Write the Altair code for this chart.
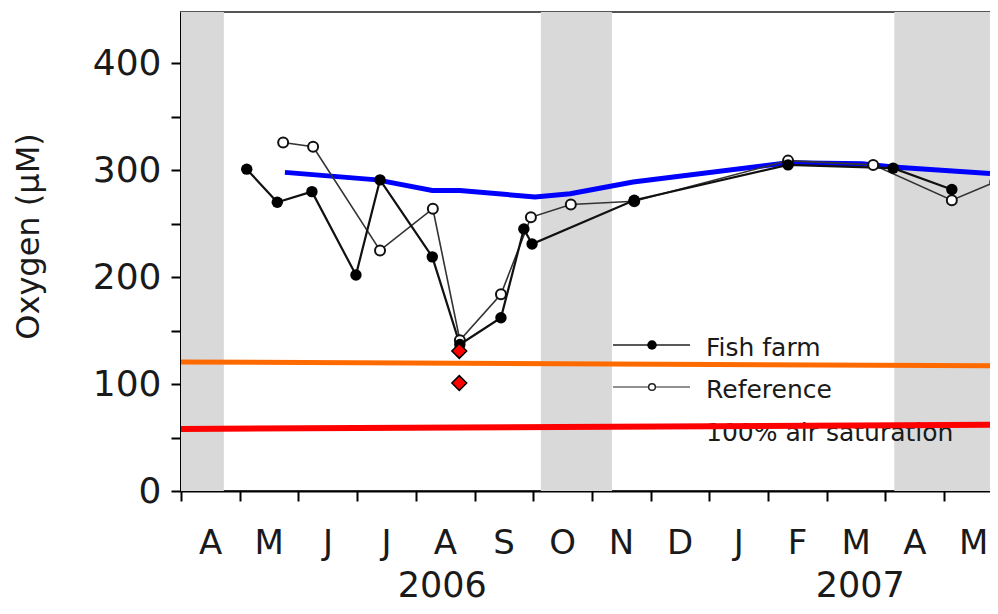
import altair as alt
import pandas as pd

# ---- data (months since 1 April 2006, oxygen in µM) ----
month_labels = ['A', 'M', 'J', 'J', 'A', 'S', 'O', 'N', 'D', 'J', 'F', 'M', 'A', 'M']
year_labels = ['2006', '2007']
year_centers = [4.45, 11.57]

fish_t = [1.12, 1.64, 2.23, 2.98, 3.39, 4.28, 4.75, 5.45, 5.84, 5.98, 7.72, 10.34, 12.13, 13.13]
fish_o2 = [301, 270, 280, 202, 291, 219, 137, 162, 245, 231, 272, 305, 302, 282]

ref_t = [1.74, 2.25, 3.39, 4.29, 4.75, 5.45, 5.96, 6.64, 7.72, 10.34, 11.79, 13.13, 13.87]
ref_o2 = [326, 322, 225, 264, 141, 184, 256, 268, 271, 309, 305, 272, 289]

sat_t = [1.77, 3.34, 4.28, 4.75, 6.03, 6.63, 7.70, 10.34, 11.60, 12.13, 13.78]
sat_o2 = [298, 291, 281, 281, 275, 278, 289, 307, 306, 303, 297]

orange_t = [0, 14]
orange_o2 = [120.7, 117]
red_t = [0, 14]
red_o2 = [58, 62]

diamond_t = [4.74, 4.74]
diamond_o2 = [131, 101]

band_start = [0, 6.13, 12.15]
band_end = [0.73, 7.34, 14]

legend_labels = ['Fish farm', 'Reference', '100% air saturation']

FONT = 'DejaVu Sans'
TXT = '#1a1a1a'
W, H = 809, 479
XMAX = 13.78

xs = alt.Scale(domain=[0, XMAX], nice=False, zero=False)
ys = alt.Scale(domain=[0, 448], nice=False, zero=True)

month_expr = '[' + ','.join("'%s'" % m for m in month_labels) + '][datum.value]'

x_axis = alt.Axis(
    values=list(range(14)), labelExpr=month_expr, labelOffset=29,
    labelPadding=25, labelFontSize=34, labelFont=FONT, labelColor=TXT,
    tickSize=10, tickWidth=2, tickColor='black', domainColor='black',
    domainWidth=2, grid=False, title='', labelAngle=0, labelFlush=False
)
y_axis = alt.Axis(
    values=list(range(0, 401, 50)),
    labelExpr="datum.value % 100 == 0 ? datum.label : ''",
    labelPadding=10, labelFontSize=36, labelFont=FONT, labelColor=TXT,
    tickSize=10, tickWidth=2, tickColor='black', domainColor='black',
    domainWidth=3, grid=False, title='Oxygen (µM)', titleFontSize=32,
    titleFont=FONT, titleFontWeight='normal', titleColor=TXT,
    titleX=-136, titleY=224, titleBaseline='bottom', titleAlign='center'
)


def X(field='t:Q'):
    return alt.X(field, scale=xs, axis=x_axis)


def Y(field='o2:Q'):
    return alt.Y(field, scale=ys, axis=y_axis)


def xy():
    return dict(x=X(), y=Y())


fish_df = pd.DataFrame({'t': fish_t, 'o2': fish_o2})
ref_df = pd.DataFrame({'t': ref_t, 'o2': ref_o2})

bands = alt.Chart(pd.DataFrame({'t': band_start, 't2': band_end})).mark_rect(
    color='#d9d9d9'
).encode(x=X(), x2='t2:Q')

sat = alt.Chart(pd.DataFrame({'t': sat_t, 'o2': sat_o2})).mark_line(
    color='#0000ff', strokeWidth=5
).encode(**xy())

ref_line = alt.Chart(ref_df).mark_line(color='#333333', strokeWidth=1.6).encode(**xy())
fish_line = alt.Chart(fish_df).mark_line(color='#111111', strokeWidth=2.2).encode(**xy())
ref_pts = alt.Chart(ref_df).mark_point(
    shape='circle', filled=False, fill='white', fillOpacity=1, stroke='#111111',
    strokeWidth=2, size=100, opacity=1
).encode(**xy())
fish_pts = alt.Chart(fish_df).mark_point(
    shape='circle', filled=True, color='black', size=130, opacity=1
).encode(**xy())

one = pd.DataFrame({'a': [0]})
leg_line1 = alt.Chart(one).mark_rule(color='#222', strokeWidth=1.5).encode(
    x=alt.value(432), x2=alt.value(509), y=alt.value(333))
leg_pt1 = alt.Chart(one).mark_point(filled=True, color='black', size=90, opacity=1).encode(
    x=alt.value(471), y=alt.value(333))
leg_line2 = alt.Chart(one).mark_rule(color='#222', strokeWidth=1.2).encode(
    x=alt.value(432), x2=alt.value(509), y=alt.value(375))
leg_pt2 = alt.Chart(one).mark_point(filled=False, fill='white', fillOpacity=1, stroke='#222',
                                    strokeWidth=1.5, size=45, opacity=1).encode(
    x=alt.value(471), y=alt.value(375))
leg_txt = [
    alt.Chart(one).mark_text(align='left', baseline='middle', fontSize=25, font=FONT,
                             color=TXT).encode(
        x=alt.value(525), y=alt.value(yy), text=alt.value(lbl))
    for lbl, yy in zip(legend_labels, [336, 378, 421])
]

orange = alt.Chart(pd.DataFrame({'t': orange_t, 'o2': orange_o2})).mark_line(
    color='#ff6a00', strokeWidth=5, clip=True).encode(**xy())
red = alt.Chart(pd.DataFrame({'t': red_t, 'o2': red_o2})).mark_line(
    color='#ff0000', strokeWidth=6, clip=True).encode(**xy())

diamonds = alt.Chart(pd.DataFrame({'t': diamond_t, 'o2': diamond_o2})).mark_point(
    shape='diamond', filled=True, fill='#ff0000', stroke='black', strokeWidth=1.5,
    size=220, opacity=1
).encode(**xy())

years = alt.Chart(pd.DataFrame({'t': year_centers, 'lbl': year_labels})).mark_text(
    fontSize=35, font=FONT, color=TXT, baseline='alphabetic', align='center'
).encode(x=X(), y=alt.value(585), text='lbl:N')

chart = alt.layer(
    bands, sat, ref_line, fish_line, ref_pts, fish_pts,
    leg_line1, leg_pt1, leg_line2, leg_pt2, *leg_txt, orange, red, diamonds, years
).properties(
    width=W, height=H,
    autosize=alt.AutoSizeParams(type='none'),
    padding={'left': 173, 'top': 4, 'right': 0, 'bottom': 115},
    background='white'
).configure_view(stroke='#555555', strokeWidth=2)

chart.save('out.html', embed_options={'renderer': 'svg', 'actions': False})
